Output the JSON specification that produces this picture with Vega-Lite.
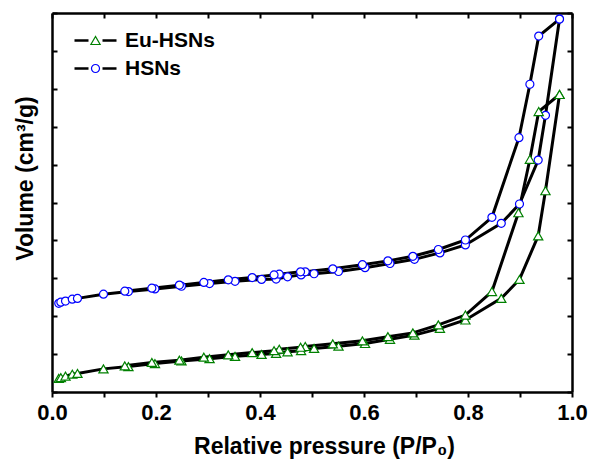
{
  "$schema": "https://vega.github.io/schema/vega-lite/v6.json",
  "width": 520,
  "height": 379,
  "autosize": {"type": "none"},
  "padding": {"left": 52, "top": 13, "right": 21, "bottom": 74},
  "background": "white",
  "config": {
    "view": {"stroke": null},
    "font": "Liberation Sans",
    "axis": {
      "domainColor": "black",
      "domainWidth": 2.5,
      "tickColor": "black",
      "tickWidth": 2,
      "grid": false,
      "labelFont": "Liberation Sans",
      "labelFontWeight": "bold",
      "labelFontSize": 22,
      "labelColor": "black",
      "titleFont": "Liberation Sans",
      "titleFontWeight": "bold",
      "titleFontSize": 23,
      "titleColor": "black"
    },
    "legend": {
      "labelFont": "Liberation Sans",
      "labelFontWeight": "bold",
      "labelFontSize": 21,
      "labelColor": "black",
      "padding": 0,
      "rowPadding": 6
    }
  },
  "data": {
    "values": [
      {"series": "HSNs", "branch": "ads", "p": 0.013, "v": 2.34},
      {"series": "HSNs", "branch": "ads", "p": 0.017, "v": 2.37},
      {"series": "HSNs", "branch": "ads", "p": 0.026, "v": 2.40},
      {"series": "HSNs", "branch": "ads", "p": 0.039, "v": 2.45},
      {"series": "HSNs", "branch": "ads", "p": 0.049, "v": 2.47},
      {"series": "HSNs", "branch": "ads", "p": 0.099, "v": 2.58},
      {"series": "HSNs", "branch": "ads", "p": 0.147, "v": 2.65},
      {"series": "HSNs", "branch": "ads", "p": 0.198, "v": 2.72},
      {"series": "HSNs", "branch": "ads", "p": 0.249, "v": 2.79},
      {"series": "HSNs", "branch": "ads", "p": 0.303, "v": 2.86},
      {"series": "HSNs", "branch": "ads", "p": 0.352, "v": 2.92},
      {"series": "HSNs", "branch": "ads", "p": 0.403, "v": 2.97},
      {"series": "HSNs", "branch": "ads", "p": 0.431, "v": 2.98},
      {"series": "HSNs", "branch": "ads", "p": 0.453, "v": 3.04},
      {"series": "HSNs", "branch": "ads", "p": 0.479, "v": 3.09},
      {"series": "HSNs", "branch": "ads", "p": 0.504, "v": 3.12},
      {"series": "HSNs", "branch": "ads", "p": 0.551, "v": 3.18},
      {"series": "HSNs", "branch": "ads", "p": 0.602, "v": 3.28},
      {"series": "HSNs", "branch": "ads", "p": 0.650, "v": 3.39},
      {"series": "HSNs", "branch": "ads", "p": 0.697, "v": 3.50},
      {"series": "HSNs", "branch": "ads", "p": 0.746, "v": 3.67},
      {"series": "HSNs", "branch": "ads", "p": 0.795, "v": 3.88},
      {"series": "HSNs", "branch": "ads", "p": 0.864, "v": 4.45},
      {"series": "HSNs", "branch": "ads", "p": 0.899, "v": 4.96},
      {"series": "HSNs", "branch": "ads", "p": 0.935, "v": 6.12},
      {"series": "HSNs", "branch": "ads", "p": 0.949, "v": 7.30},
      {"series": "HSNs", "branch": "ads", "p": 0.976, "v": 9.84},
      {"series": "HSNs", "branch": "des", "p": 0.976, "v": 9.84},
      {"series": "HSNs", "branch": "des", "p": 0.936, "v": 9.39},
      {"series": "HSNs", "branch": "des", "p": 0.919, "v": 8.12},
      {"series": "HSNs", "branch": "des", "p": 0.898, "v": 6.71},
      {"series": "HSNs", "branch": "des", "p": 0.846, "v": 4.61},
      {"series": "HSNs", "branch": "des", "p": 0.795, "v": 4.01},
      {"series": "HSNs", "branch": "des", "p": 0.743, "v": 3.76},
      {"series": "HSNs", "branch": "des", "p": 0.694, "v": 3.58},
      {"series": "HSNs", "branch": "des", "p": 0.646, "v": 3.46},
      {"series": "HSNs", "branch": "des", "p": 0.597, "v": 3.36},
      {"series": "HSNs", "branch": "des", "p": 0.540, "v": 3.25},
      {"series": "HSNs", "branch": "des", "p": 0.487, "v": 3.17},
      {"series": "HSNs", "branch": "des", "p": 0.478, "v": 3.17},
      {"series": "HSNs", "branch": "des", "p": 0.437, "v": 3.11},
      {"series": "HSNs", "branch": "des", "p": 0.427, "v": 3.09},
      {"series": "HSNs", "branch": "des", "p": 0.385, "v": 3.02},
      {"series": "HSNs", "branch": "des", "p": 0.339, "v": 2.96},
      {"series": "HSNs", "branch": "des", "p": 0.292, "v": 2.89},
      {"series": "HSNs", "branch": "des", "p": 0.245, "v": 2.82},
      {"series": "HSNs", "branch": "des", "p": 0.192, "v": 2.74},
      {"series": "HSNs", "branch": "des", "p": 0.140, "v": 2.66},
      {"series": "Eu-HSNs", "branch": "ads", "p": 0.013, "v": 0.36},
      {"series": "Eu-HSNs", "branch": "ads", "p": 0.017, "v": 0.38},
      {"series": "Eu-HSNs", "branch": "ads", "p": 0.026, "v": 0.42},
      {"series": "Eu-HSNs", "branch": "ads", "p": 0.039, "v": 0.47},
      {"series": "Eu-HSNs", "branch": "ads", "p": 0.049, "v": 0.49},
      {"series": "Eu-HSNs", "branch": "ads", "p": 0.099, "v": 0.61},
      {"series": "Eu-HSNs", "branch": "ads", "p": 0.147, "v": 0.67},
      {"series": "Eu-HSNs", "branch": "ads", "p": 0.198, "v": 0.75},
      {"series": "Eu-HSNs", "branch": "ads", "p": 0.249, "v": 0.82},
      {"series": "Eu-HSNs", "branch": "ads", "p": 0.303, "v": 0.88},
      {"series": "Eu-HSNs", "branch": "ads", "p": 0.352, "v": 0.94},
      {"series": "Eu-HSNs", "branch": "ads", "p": 0.403, "v": 0.99},
      {"series": "Eu-HSNs", "branch": "ads", "p": 0.431, "v": 1.02},
      {"series": "Eu-HSNs", "branch": "ads", "p": 0.453, "v": 1.06},
      {"series": "Eu-HSNs", "branch": "ads", "p": 0.479, "v": 1.09},
      {"series": "Eu-HSNs", "branch": "ads", "p": 0.504, "v": 1.15},
      {"series": "Eu-HSNs", "branch": "ads", "p": 0.551, "v": 1.21},
      {"series": "Eu-HSNs", "branch": "ads", "p": 0.602, "v": 1.28},
      {"series": "Eu-HSNs", "branch": "ads", "p": 0.650, "v": 1.39},
      {"series": "Eu-HSNs", "branch": "ads", "p": 0.697, "v": 1.50},
      {"series": "Eu-HSNs", "branch": "ads", "p": 0.746, "v": 1.68},
      {"series": "Eu-HSNs", "branch": "ads", "p": 0.795, "v": 1.90},
      {"series": "Eu-HSNs", "branch": "ads", "p": 0.864, "v": 2.47},
      {"series": "Eu-HSNs", "branch": "ads", "p": 0.899, "v": 2.97},
      {"series": "Eu-HSNs", "branch": "ads", "p": 0.935, "v": 4.12},
      {"series": "Eu-HSNs", "branch": "ads", "p": 0.949, "v": 5.31},
      {"series": "Eu-HSNs", "branch": "ads", "p": 0.976, "v": 7.85},
      {"series": "Eu-HSNs", "branch": "des", "p": 0.976, "v": 7.85},
      {"series": "Eu-HSNs", "branch": "des", "p": 0.936, "v": 7.40},
      {"series": "Eu-HSNs", "branch": "des", "p": 0.919, "v": 6.14},
      {"series": "Eu-HSNs", "branch": "des", "p": 0.897, "v": 4.73},
      {"series": "Eu-HSNs", "branch": "des", "p": 0.846, "v": 2.65},
      {"series": "Eu-HSNs", "branch": "des", "p": 0.795, "v": 2.03},
      {"series": "Eu-HSNs", "branch": "des", "p": 0.743, "v": 1.77},
      {"series": "Eu-HSNs", "branch": "des", "p": 0.694, "v": 1.56},
      {"series": "Eu-HSNs", "branch": "des", "p": 0.646, "v": 1.46},
      {"series": "Eu-HSNs", "branch": "des", "p": 0.597, "v": 1.35},
      {"series": "Eu-HSNs", "branch": "des", "p": 0.540, "v": 1.27},
      {"series": "Eu-HSNs", "branch": "des", "p": 0.487, "v": 1.20},
      {"series": "Eu-HSNs", "branch": "des", "p": 0.478, "v": 1.18},
      {"series": "Eu-HSNs", "branch": "des", "p": 0.437, "v": 1.13},
      {"series": "Eu-HSNs", "branch": "des", "p": 0.427, "v": 1.09},
      {"series": "Eu-HSNs", "branch": "des", "p": 0.385, "v": 1.04},
      {"series": "Eu-HSNs", "branch": "des", "p": 0.339, "v": 0.98},
      {"series": "Eu-HSNs", "branch": "des", "p": 0.292, "v": 0.92},
      {"series": "Eu-HSNs", "branch": "des", "p": 0.245, "v": 0.84},
      {"series": "Eu-HSNs", "branch": "des", "p": 0.192, "v": 0.78},
      {"series": "Eu-HSNs", "branch": "des", "p": 0.140, "v": 0.69}
    ]
  },
  "layer": [
    {
      "mark": {"type": "line", "strokeWidth": 3, "clip": true},
      "encoding": {
        "x": {
          "field": "p", "type": "quantitative",
          "scale": {"domain": [0, 1], "nice": false, "zero": false},
          "axis": {
            "orient": "bottom",
            "values": [0, 0.1, 0.2, 0.3, 0.4, 0.5, 0.6, 0.7, 0.8, 0.9, 1.0],
            "labelExpr": "round(datum.value*10) % 2 == 0 ? format(datum.value, '.1f') : ''",
            "tickSize": 5,
            "labelPadding": 5,
            "labelFlush": false,
            "labelOverlap": false,
            "title": "Relative pressure (P/P₀)",
            "titleX": 272,
            "titleY": 61,
            "titleBaseline": "alphabetic",
            "titleAlign": "center"
          }
        },
        "y": {
          "field": "v", "type": "quantitative",
          "scale": {"domain": [0, 10], "nice": false, "zero": false},
          "axis": {
            "orient": "left",
            "values": [0, 1, 2, 3, 4, 5, 6, 7, 8, 9, 10],
            "labels": false,
            "tickSize": -5,
            "title": "Volume (cm³/g)",
            "titleAngle": -90,
            "titleX": -20,
            "titleY": 165,
            "titleBaseline": "alphabetic",
            "titleAlign": "center"
          }
        },
        "detail": {"field": "branch", "type": "nominal"},
        "color": {
          "field": "series", "type": "nominal",
          "scale": {"domain": ["Eu-HSNs", "HSNs"], "range": ["black", "black"]},
          "legend": {
            "orient": "none",
            "legendX": 33,
            "legendY": 17,
            "title": null,
            "symbolType": "M-3,0H-1M1,0H3",
            "symbolSize": 196,
            "symbolStrokeWidth": 2.5,
            "labelOffset": 19
          }
        }
      }
    },
    {
      "mark": {"type": "point", "filled": false, "fill": "white", "strokeWidth": 1.2, "opacity": 1},
      "encoding": {
        "x": {
          "field": "p", "type": "quantitative",
          "axis": {
            "orient": "top",
            "values": [0, 0.1, 0.2, 0.3, 0.4, 0.5, 0.6, 0.7, 0.8, 0.9, 1.0],
            "labels": false,
            "tickSize": -5,
            "title": null
          }
        },
        "y": {
          "field": "v", "type": "quantitative",
          "axis": {
            "orient": "right",
            "values": [0, 1, 2, 3, 4, 5, 6, 7, 8, 9, 10],
            "labels": false,
            "tickSize": -5,
            "title": null
          }
        },
        "color": {
          "field": "series", "type": "nominal",
          "scale": {"domain": ["Eu-HSNs", "HSNs"], "range": ["#008000", "#0000ff"]},
          "legend": {
            "orient": "none",
            "legendX": 33,
            "legendY": 17,
            "title": null,
            "symbolSize": 50,
            "symbolStrokeWidth": 1.2,
            "symbolFillColor": "white",
            "labelExpr": "' '"
          }
        },
        "shape": {
          "field": "series", "type": "nominal",
          "scale": {"domain": ["Eu-HSNs", "HSNs"], "range": ["triangle-up", "circle"]},
          "legend": {
            "orient": "none",
            "legendX": 33,
            "legendY": 17,
            "title": null,
            "symbolSize": 50,
            "symbolStrokeWidth": 1.2,
            "symbolFillColor": "white",
            "labelExpr": "' '"
          }
        },
        "size": {
          "field": "series", "type": "nominal",
          "scale": {"domain": ["Eu-HSNs", "HSNs"], "range": [85, 64]},
          "legend": null
        }
      }
    }
  ],
  "resolve": {
    "scale": {"color": "independent", "shape": "independent", "size": "independent"},
    "legend": {"color": "independent", "shape": "independent", "size": "independent"},
    "axis": {"x": "independent", "y": "independent"}
  }
}
